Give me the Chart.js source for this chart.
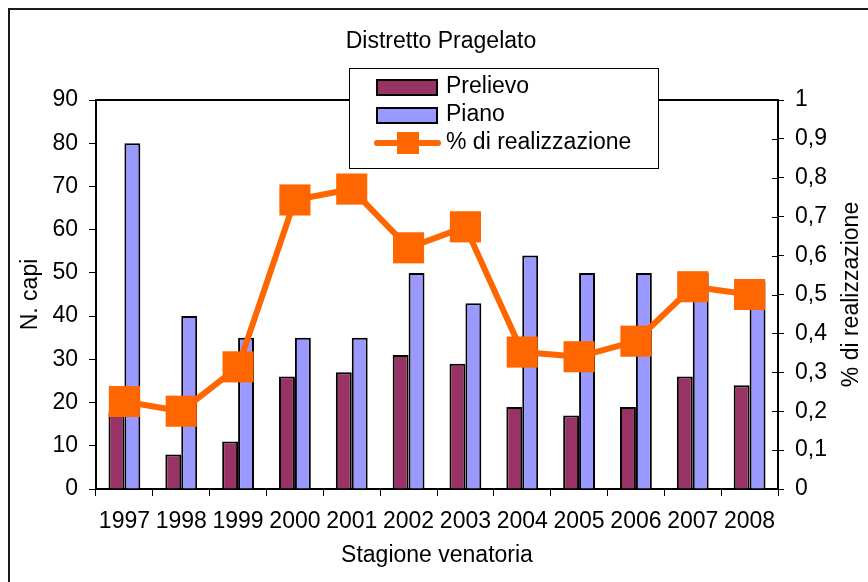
<!DOCTYPE html>
<html>
<head>
<meta charset="utf-8">
<title>Distretto Pragelato</title>
<script src="https://cdn.jsdelivr.net/npm/chart.js@4"></script>
<style>
  html, body { margin: 0; padding: 0; background: #fff; }
  #wrap { width: 868px; height: 582px; position: relative; }
</style>
</head>
<body>
<div id="wrap"><canvas id="pragelato"></canvas></div>
<script>
// Stagioni venatorie e capi
const years = ['1997', '1998', '1999', '2000', '2001', '2002', '2003', '2004', '2005', '2006', '2007', '2008'];
const prelievo = [18, 8, 11, 26, 27, 31, 29, 19, 17, 19, 26, 24];
const piano = [80, 40, 35, 35, 35, 50, 43, 54, 50, 50, 50, 48];
const realizzazione = [0.225, 0.2, 0.314, 0.743, 0.771, 0.62, 0.674, 0.352, 0.34, 0.38, 0.52, 0.5];

const FONT = "'Liberation Sans', Arial, sans-serif";
const MAROON = '#993366';
const LAVENDER = '#9999FF';
const ORANGE = '#FF6600';

Chart.defaults.color = '#000';
Chart.defaults.font.family = FONT;
Chart.defaults.font.size = 23;

function fmtComma(v) {
    if (v === 0 || v === 1) return String(v);
    return v.toFixed(1).replace('.', ',');
}

// frame, titles, right-axis inner ticks and the legend box
const decor = {
    id: 'decor',
    beforeDraw(chart) {
        const ctx = chart.ctx;
        ctx.save();
        ctx.fillStyle = '#fff';
        ctx.fillRect(0, 0, chart.width, chart.height);
        ctx.restore();
    },
    afterDraw(chart) {
        const { ctx, chartArea: a, scales } = chart;
        ctx.save();

        // outer frame
        ctx.strokeStyle = '#1a1a1a';
        ctx.lineWidth = 2;
        ctx.beginPath();
        ctx.moveTo(9, chart.height);
        ctx.lineTo(9, 9);
        ctx.lineTo(chart.width, 9);
        ctx.stroke();

        // top edge of the plot area
        ctx.strokeStyle = '#000';
        ctx.beginPath();
        ctx.moveTo(a.left, a.top);
        ctx.lineTo(a.right, a.top);
        ctx.stroke();

        // right axis ticks cross the axis line
        ctx.lineWidth = 1;
        scales.y1.ticks.forEach(t => {
            const y = Math.round(scales.y1.getPixelForValue(t.value)) + 0.5;
            ctx.beginPath();
            ctx.moveTo(a.right - 6, y);
            ctx.lineTo(a.right, y);
            ctx.stroke();
        });

        // text
        ctx.fillStyle = '#000';
        ctx.font = '23px ' + FONT;
        ctx.textAlign = 'center';
        ctx.textBaseline = 'middle';
        ctx.fillText('Distretto Pragelato', 441, 42);
        ctx.fillText('Stagione venatoria', (a.left + a.right) / 2, 556);

        const midY = (a.top + a.bottom) / 2;
        ctx.save();
        ctx.translate(31, midY);
        ctx.rotate(-Math.PI / 2);
        ctx.fillText('N. capi', 0, 0);
        ctx.restore();

        ctx.save();
        ctx.translate(852, midY);
        ctx.rotate(-Math.PI / 2);
        ctx.fillText('% di realizzazione', 0, 0);
        ctx.restore();

        // legend
        const lx = 349, ly = 68, lw = 309, lh = 100;
        ctx.fillStyle = '#fff';
        ctx.fillRect(lx, ly, lw, lh);
        ctx.strokeStyle = '#000';
        ctx.lineWidth = 1;
        ctx.strokeRect(lx + 0.5, ly + 0.5, lw, lh);

        const rows = [87, 115, 143];
        chart.data.datasets.forEach((ds, i) => {
            const cy = rows[i];
            if (ds.type === 'line') {
                ctx.strokeStyle = ds.borderColor;
                ctx.lineWidth = 6;
                ctx.lineCap = 'round';
                ctx.beginPath();
                ctx.moveTo(377, cy);
                ctx.lineTo(438, cy);
                ctx.stroke();
                ctx.fillStyle = ds.borderColor;
                ctx.fillRect(397, cy - 11, 22, 22);
            } else {
                ctx.fillStyle = ds.backgroundColor;
                ctx.fillRect(377, cy - 7, 60, 15);
                ctx.strokeStyle = '#000';
                ctx.lineWidth = 2;
                ctx.strokeRect(377, cy - 7, 60, 15);
            }
            ctx.fillStyle = '#000';
            ctx.textAlign = 'left';
            ctx.fillText(ds.label, 446, cy);
        });

        ctx.restore();
    }
};

new Chart(document.getElementById('pragelato'), {
    type: 'bar',
    data: {
        labels: years,
        datasets: [
            {
                label: 'Prelievo',
                data: prelievo,
                backgroundColor: MAROON,
                borderColor: '#000',
                borderWidth: 2,
                yAxisID: 'y',
                order: 2
            },
            {
                label: 'Piano',
                data: piano,
                backgroundColor: LAVENDER,
                borderColor: '#000',
                borderWidth: 2,
                yAxisID: 'y',
                order: 2
            },
            {
                type: 'line',
                label: '% di realizzazione',
                data: realizzazione,
                borderColor: ORANGE,
                backgroundColor: ORANGE,
                borderWidth: 6,
                pointStyle: 'rect',
                pointRadius: 22,
                pointBorderWidth: 0,
                pointBackgroundColor: ORANGE,
                tension: 0,
                yAxisID: 'y1',
                order: 1
            }
        ]
    },
    options: {
        responsive: true,
        maintainAspectRatio: false,
        animation: false,
        layout: { padding: { top: 100, left: 0, right: 0, bottom: 0 } },
        datasets: {
            bar: { barPercentage: 1, categoryPercentage: 0.56 }
        },
        plugins: {
            legend: { display: false },
            title: { display: false },
            tooltip: { enabled: false }
        },
        scales: {
            x: {
                offset: true,
                grid: {
                    offset: true,
                    drawOnChartArea: false,
                    color: '#000',
                    tickLength: 7
                },
                border: { color: '#000', width: 2 },
                ticks: { padding: 12, maxRotation: 0, autoSkip: false },
                afterFit(scale) { scale.height = 93; }
            },
            y: {
                position: 'left',
                min: 0,
                max: 90,
                ticks: { stepSize: 10, padding: 11 },
                grid: { drawOnChartArea: false, color: '#000', tickLength: 7 },
                border: { color: '#000', width: 2 },
                afterFit(scale) { scale.width = 96; }
            },
            y1: {
                position: 'right',
                min: 0,
                max: 1,
                ticks: { stepSize: 0.1, padding: 11, callback: v => fmtComma(v) },
                grid: { drawOnChartArea: false, color: '#000', tickLength: 6 },
                border: { color: '#000', width: 2 },
                afterFit(scale) { scale.width = 90; }
            }
        }
    },
    plugins: [decor]
});
</script>
</body>
</html>
